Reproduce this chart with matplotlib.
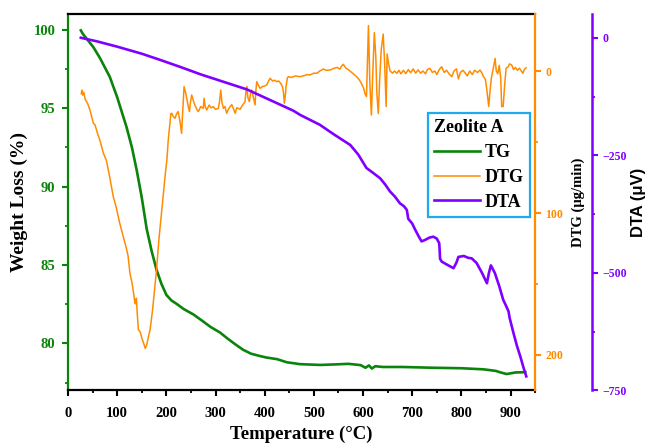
import numpy as np
import matplotlib
matplotlib.use("Agg")
import matplotlib.pyplot as plt
from matplotlib.ticker import MultipleLocator
from matplotlib.lines import Line2D

plt.rcParams['font.family'] = ['Liberation Serif', 'DejaVu Serif']
plt.rcParams['font.weight'] = 'bold'

# thermogravimetric data for zeolite A
tg_temp = [26, 30, 40, 51.5, 65, 85, 100, 119, 130, 140, 150, 160, 170, 180, 190,
           200, 210, 222, 235, 255, 275, 290, 309, 325, 340, 356, 372, 390, 404,
           425, 445, 472, 513, 540, 570, 595, 605, 612, 618, 625, 640, 680, 743,
           800, 845, 870, 880, 892, 910, 930]
tg_weight = [99.97, 99.75, 99.35, 98.9, 98.2, 97.0, 95.7, 93.8, 92.5, 91.0, 89.3,
             87.3, 85.9, 84.7, 83.8, 83.1, 82.75, 82.5, 82.2, 81.85, 81.4, 81.05,
             80.7, 80.3, 79.95, 79.6, 79.35, 79.2, 79.1, 79.0, 78.8, 78.68, 78.63,
             78.66, 78.7, 78.62, 78.45, 78.6, 78.4, 78.55, 78.5, 78.5, 78.45,
             78.42, 78.35, 78.25, 78.15, 78.05, 78.15, 78.17]

dtg_temp = [27, 28, 30, 32, 35, 40, 45, 51.5, 55, 60, 65, 72, 78, 85, 92, 98, 105,
            112.5, 118, 122, 126, 130, 134, 136, 138, 139, 141, 143, 147, 150, 154,
            157, 160, 163, 167, 172, 176, 180, 185, 190, 194, 198, 201, 204, 207.5,
            209, 211, 214, 217.6, 221, 224, 228, 231, 233, 236, 239, 241.5, 244, 247,
            249, 251.6, 255, 258, 262, 265, 270, 275, 276.7, 279, 282, 287, 291,
            295.6, 300, 305.7, 308, 310.6, 313, 316, 319, 322.7, 326, 330, 333, 337,
            340, 343, 346.4, 350, 353, 357, 360, 362, 363.5, 366, 368.8, 371, 373.6,
            376, 380.4, 382, 383.8, 387, 390.6, 395, 400, 404, 408, 411, 416, 420,
            424.5, 428, 432.6, 436, 438, 440, 442, 443.4, 446, 448, 455, 462, 472,
            480, 486, 492, 500, 506, 512, 519, 525, 533, 540, 547, 553, 557, 560,
            565, 570, 575, 580, 587, 592, 597, 601, 604, 607, 611, 614, 617, 620,
            623, 626, 628, 631, 634, 637, 641, 644, 647, 649, 652, 655, 660, 664,
            668.6, 673, 677, 682, 687, 692, 697, 702, 707, 712, 717, 722, 727, 731,
            736, 741, 746, 750, 755, 760, 765, 770, 775, 780.5, 785, 790, 794, 798,
            803, 808, 812, 817, 822, 827, 833, 838, 842, 845, 849, 852, 855.7, 858,
            861, 865, 868.6, 871, 874, 877, 880, 882, 885, 888, 891, 895, 898, 902.5,
            906, 910, 914, 918, 922, 925, 928, 931.6]
dtg_rate = [16, 13.5, 17, 15, 20, 23, 28, 36.8, 38, 44, 49, 58, 63, 75, 88.5, 96, 107,
            116.7, 124, 130, 142.5, 149, 158, 163.6, 164, 160, 172, 182, 184, 188,
            192, 195.3, 193, 188, 182, 168, 154, 140, 118, 100, 86, 72, 62.7, 48, 36,
            30, 29.8, 32, 33.3, 30, 28.6, 36, 43.9, 30, 11, 15, 19.2, 24, 28.6, 22,
            16.9, 21, 24, 27, 28.6, 25, 26.3, 19.2, 25, 27.5, 24, 26, 25.1, 27, 26.3,
            22, 13.4, 22, 26.3, 25, 29.8, 27, 25, 23.7, 27, 29.8, 26, 26.3, 27, 25.1,
            23, 21.6, 14, 11, 19, 21.6, 16, 13.4, 17, 23.9, 14, 7.5, 10, 12.2, 11,
            10.5, 9.9, 7, 5.1, 7, 6.5, 7.5, 7, 8.7, 11, 14.6, 22.7, 17, 11, 5, 4, 4.5,
            3.5, 4, 3.3, 2.5, 2.8, 1.5, 1.6, 0, -1.4, -0.5, -0.7, -1.8, -2.5, -1.4,
            -3.8, -4.7, -2, -1, 0.5, 2, 4, 6, 9, 12, 16, 18, -32, 10, 31, 0, -27, -10,
            15, 30, 5, -15, -26, -5, 25, -12, -5, 0, 1.5, 0, 1.6, -0.5, 2, -0.5, 1.8,
            -1, 1.2, -1.5, 1.5, -0.8, 1.5, 0, 2, -1, -1.9, 1, 0, 2.5, -1, -3, 1, -0.5,
            2, 4, 0, -1.5, 5.6, 1, -0.5, 1.5, 3.5, 0, 2.5, -0.5, 1, -0.7, 1.5, 4, 6,
            14, 25, 15, 5, -2, -8.9, 0, 2, -4, 5, 25, 25, 10, -1.9, -3, -5, -4.2, -1,
            -2.5, -0.5, -2, 0, 1.6, -1, -2.3]

dta_temp = [26, 60, 100, 150, 187, 228, 270, 320, 364, 410, 458, 472, 512, 540, 574,
            590, 607, 620, 635, 645, 655, 665, 675, 683, 689, 692, 700, 706, 713, 719,
            726, 735, 743, 750, 755, 756.7, 760, 770, 784, 790, 794, 805, 814, 821,
            831, 842, 852, 856, 860, 868, 877, 885, 890, 896, 898, 906, 913, 920, 926,
            932]
dta_signal = [0, -8, -19, -34, -47, -62, -78, -95, -110, -132, -155, -164, -185, -205,
              -228, -248, -277, -287, -299, -312, -327, -338, -352, -358, -366, -385,
              -395, -408, -422, -433, -430, -425, -423, -427, -437, -470, -476, -482,
              -490, -478, -466, -464, -468, -469, -479, -500, -522, -500, -484, -500,
              -528, -557, -568, -582, -595, -628, -655, -678, -700, -720]

green = '#0b840b'
orange = '#ff8c00'
purple = '#8000ff'

fig = plt.figure(figsize=(6.51, 4.44), dpi=100)
ax = fig.add_axes([0.1045, 0.1205, 0.7175, 0.8475])
ax2 = ax.twinx()
ax3 = ax.twinx()

ax.plot(tg_temp, tg_weight, color=green, lw=1.9, zorder=3)
ax2.plot(dtg_temp, dtg_rate, color=orange, lw=1.1)
ax3.plot(dta_temp, dta_signal, color=purple, lw=1.9)

ax.set_xticks(range(0, 1000, 100))
ax.xaxis.set_minor_locator(MultipleLocator(50))
ax.set_xlim(0, 950)
ax.set_ylim(77, 101)
ax2.set_ylim(225, -40)
ax3.set_ylim(-750, 50)

ax.yaxis.set_major_locator(MultipleLocator(5))
ax.yaxis.set_minor_locator(MultipleLocator(2.5))
ax2.yaxis.set_major_locator(MultipleLocator(100))
ax2.yaxis.set_minor_locator(MultipleLocator(50))
ax3.yaxis.set_major_locator(MultipleLocator(250))
ax3.yaxis.set_minor_locator(MultipleLocator(125))

for s in ['top', 'bottom']:
    ax.spines[s].set_linewidth(1.6)
    ax.spines[s].set_color('black')
ax.spines['left'].set_color(green)
ax.spines['left'].set_linewidth(1.6)
ax.spines['right'].set_visible(False)

for s in ['top', 'bottom', 'left']:
    ax2.spines[s].set_visible(False)
    ax3.spines[s].set_visible(False)
ax2.spines['right'].set_color(orange)
ax2.spines['right'].set_linewidth(1.6)
ax3.spines['right'].set_position(('axes', 1.122))
ax3.spines['right'].set_color(purple)
ax3.spines['right'].set_linewidth(1.8)

ax.tick_params(axis='x', which='major', length=4, width=1.5, labelsize=10.5,
               color='black', pad=8)
ax.tick_params(axis='x', which='minor', length=2.5, width=1.3)
ax.tick_params(axis='y', which='major', length=4, width=1.5, labelsize=10.5,
               color=green, labelcolor=green, pad=5)
ax.tick_params(axis='y', which='minor', length=2.5, width=1.3, color=green)
ax2.tick_params(axis='y', which='major', length=4, width=1.5, labelsize=8.5,
                color=orange, labelcolor=orange)
ax2.tick_params(axis='y', which='minor', length=2.5, width=1.3, color=orange)
ax3.tick_params(axis='y', which='major', length=4, width=1.5, labelsize=8.5,
                color=purple, labelcolor=purple)
ax3.tick_params(axis='y', which='minor', length=2.5, width=1.3, color=purple)

ax.set_xlabel('Temperature (°C)', fontsize=13.5, fontweight='bold', labelpad=4)
ax.set_ylabel('Weight Loss (%)', fontsize=14, fontweight='bold', labelpad=4)
ax2.set_ylabel('DTG (μg/min)', fontsize=10.5, fontweight='bold', labelpad=6)
ax3.set_ylabel('DTA (μV)', fontsize=12, fontweight='bold', labelpad=3,
               family=['Liberation Sans', 'DejaVu Sans'])

handles = [Line2D([], [], color=green, lw=1.9),
           Line2D([], [], color=orange, lw=1.1),
           Line2D([], [], color=purple, lw=1.9)]
leg = ax3.legend(handles, ['TG', 'DTG', 'DTA'], title='Zeolite A',
                 loc='upper left', bbox_to_anchor=(0.771, 0.737),
                 borderaxespad=0,
                 prop={'weight': 'bold', 'size': 13},
                 title_fontproperties={'weight': 'bold', 'size': 13},
                 handlelength=2.5, handletextpad=0.3, labelspacing=0.43,
                 borderpad=0.35, fancybox=False, framealpha=1)
leg._legend_box.align = 'left'
leg.get_frame().set_edgecolor('#1eaaf0')
leg.get_frame().set_linewidth(1.6)

fig.savefig('out.png', dpi=100)
